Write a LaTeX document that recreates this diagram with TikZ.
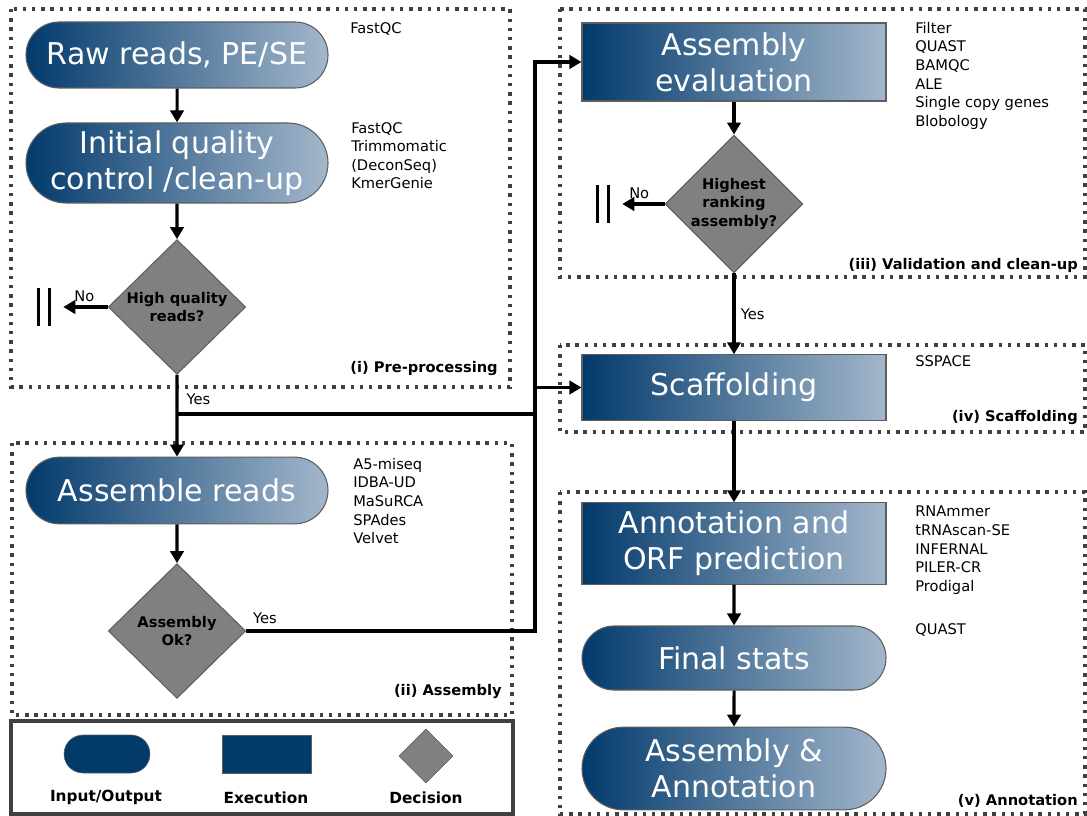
\documentclass[tikz,border=0pt]{standalone}
\usepackage{fontspec}
\setmainfont{DejaVu Sans}
\usetikzlibrary{shapes.geometric,shapes.misc,arrows.meta}

\definecolor{ioblue}{HTML}{023A6C}
\definecolor{fadeblue}{HTML}{A3B7CB}
\definecolor{edgegray}{HTML}{5E5E5E}
\definecolor{decgray}{HTML}{808080}
\definecolor{dotgray}{HTML}{404040}

\begin{document}
\begin{tikzpicture}[
	x=0.75pt, y=-0.75pt, % work on the pixel grid, y going down
	>={Triangle[length=9pt,width=10pt]}, % big filled arrowheads
	flow/.style={line width=2.3pt},
	io/.style={rounded rectangle, draw=edgegray, line width=0.8pt,
		left color=ioblue, right color=fadeblue, text=white,
		font=\fontsize{22.5}{27}\selectfont, align=center,
		minimum width=226.5pt, inner sep=0pt},
	exec/.style={io, rectangle},
	decision/.style={diamond, draw=edgegray, line width=0.8pt, fill=decgray,
		font=\bfseries\fontsize{11}{14}\selectfont, align=center,
		minimum width=103pt, minimum height=101pt, inner sep=0pt},
	tools/.style={anchor=north west, align=left, inner sep=0pt,
		font=\fontsize{11}{13.9}\selectfont},
	stage/.style={anchor=east, inner sep=0pt, font=\bfseries\fontsize{11}{13}\selectfont},
	group/.style={draw=dotgray, line width=2.6pt, dash pattern=on 2.6pt off 4.3pt},
	stopsign/.style={minimum width=7.5pt, minimum height=27.5pt, inner sep=0pt},
	stopbar/.style={line width=2.6pt},
	note/.style={font=\fontsize{11}{13}\selectfont, inner sep=1pt},
	legtext/.style={font=\bfseries\fontsize{11.5}{13}\selectfont, inner sep=0pt}
]
\useasboundingbox (0,0) rectangle (1087,816);

% stage boxes
\draw[group] (11,9) rectangle (510,387);
\draw[group] (12,443) rectangle (512,715);
\draw[group] (560,9) rectangle (1085,277);
\draw[group] (560,345) rectangle (1085,432);
\draw[group] (560,492) rectangle (1085,814);

\node[stage] (lblpre) at (498,369) {(i) Pre-processing};
\node[stage] (lblasm) at (502,692) {(ii) Assembly};
\node[stage] (lblval) at (1078,265) {(iii) Validation and clean-up};
\node[stage] (lblscaf) at (1078,418) {(iv) Scaffolding};
\node[stage] (lblann) at (1078,801) {(v) Annotation};

% left column
\node[io, minimum height=49.5pt] (raw) at (177,55) {Raw reads, PE/SE};
\node[io, minimum height=60pt] (iqc) at (177,163) {Initial quality\\control /clean-up};
\node[decision] (hq) at (177,307) {High quality\\reads?};
\node[stopsign] (stopA) at (44,307) {};
\node[io, minimum height=50pt] (asm) at (177,490.5) {Assemble reads};
\node[decision] (aok) at (177,631) {Assembly\\Ok?};

% right column
\node[exec, minimum height=58.5pt, minimum width=228pt] (eval) at (734,62) {Assembly\\evaluation};
\node[decision] (hr) at (734,204) {Highest\\ranking\\assembly?};
\node[stopsign] (stopB) at (603,204) {};
\node[exec, minimum height=49pt, minimum width=228pt] (scaf) at (734,387.5) {Scaffolding};
\node[exec, minimum height=61pt, minimum width=228pt] (annot) at (734,543.5) {Annotation and\\ORF prediction};
\node[io, minimum height=48pt, minimum width=228pt] (final) at (734,658) {Final stats};
\node[io, minimum height=62pt, minimum width=228pt] (aa) at (734,768.5) {Assembly \&\\Annotation};

% tool lists
\node[tools] (toolsraw) at (350,22) {FastQC};
\node[tools] (toolsiqc) at (351,122) {FastQC\\Trimmomatic\\(DeconSeq)\\KmerGenie};
\node[tools] (toolsasm) at (353,458) {A5-miseq\\IDBA-UD\\MaSuRCA\\SPAdes\\Velvet};
\node[tools] (toolseval) at (915,22) {Filter\\QUAST\\BAMQC\\ALE\\Single copy genes\\Blobology};
\node[tools] (toolsscaf) at (915,355) {SSPACE};
\node[tools] (toolsann) at (915,506) {RNAmmer\\tRNAscan-SE\\INFERNAL\\PILER-CR\\Prodigal};
\node[tools] (toolsfin) at (915,623) {QUAST};

% stop bars
\draw[stopbar] (stopA.north west) -- (stopA.south west) (stopA.north east) -- (stopA.south east);
\draw[stopbar] (stopB.north west) -- (stopB.south west) (stopB.north east) -- (stopB.south east);

% flow
\path[flow,->]
(raw) edge (iqc)
(iqc) edge (hq)
(hq) edge[shorten >=10.5pt] node[note, above=2pt, pos=0.4] {No} (stopA)
(hq) edge node[note, anchor=west, pos=0.3, xshift=5pt] {Yes} (asm)
(asm) edge (aok)
(eval) edge (hr)
(hr) edge[shorten >=10.5pt] node[note, above=2pt, pos=0.45] {No} (stopB)
(hr) edge node[note, anchor=west, pos=0.5, xshift=3pt] {Yes} (scaf)
(scaf) edge (annot)
(annot) edge (final)
(final) edge (aa)
;

\coordinate (bus) at (535,414);
\draw[flow,<-] (eval.west) -- (eval.west -| bus) -- (aok.east -| bus)
	-- node[note, pos=1, anchor=south west, xshift=3pt, yshift=3pt] {Yes} (aok.east);
\draw[flow] (hq.south |- bus) -- (bus);
\draw[flow,->] (scaf.west -| bus) -- (scaf.west);

% legend
\draw[draw=dotgray, line width=2.4pt] (11,721) rectangle (513,814);
\node[rounded rectangle, draw=edgegray, fill=ioblue, minimum width=64.5pt, minimum height=28.5pt, inner sep=0pt] (legio) at (107,754) {};
\node[rectangle, draw=edgegray, fill=ioblue, minimum width=67pt, minimum height=28.5pt, inner sep=0pt] (legexec) at (266.5,754) {};
\node[diamond, draw=edgegray, fill=decgray, minimum size=40.5pt, inner sep=0pt] (legdec) at (426,756) {};
\node[legtext] (legiotext) at (106,797) {Input/Output};
\node[legtext] (legexectext) at (266,798) {Execution};
\node[legtext] (legdectext) at (426,798) {Decision};
\end{tikzpicture}
\end{document}
